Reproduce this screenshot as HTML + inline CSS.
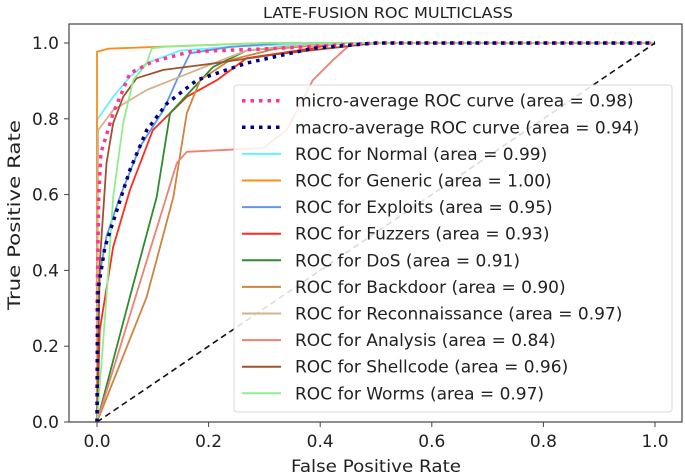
<!DOCTYPE html>
<html><head><meta charset="utf-8"><style>
html,body{margin:0;padding:0;background:#fff;}
svg{display:block;font-family:"DejaVu Sans","Liberation Sans",sans-serif;}
</style></head><body>
<svg id="chart" width="685" height="476" viewBox="0 0 685 476" xmlns="http://www.w3.org/2000/svg">
<text x="388" y="18" font-size="15.5" text-anchor="middle" fill="#222" textLength="250" lengthAdjust="spacingAndGlyphs">LATE-FUSION ROC MULTICLASS</text>
<g id="plot"></g>
<rect x="69" y="24" width="613" height="398" fill="none" stroke="#444" stroke-width="1.2"/>
<g id="ticks"></g>
<text x="376" y="472" font-size="17" text-anchor="middle" fill="#222" textLength="170" lengthAdjust="spacingAndGlyphs">False Positive Rate</text>
<text x="20" y="215" font-size="17" text-anchor="middle" fill="#222" transform="rotate(-90 20 215)" textLength="190" lengthAdjust="spacingAndGlyphs">True Positive Rate</text>
<g id="legend"></g>
</svg>
<script>
const tickValues = [0, 0.2, 0.4, 0.6, 0.8, 1.0];
const tickLabels = ["0.0", "0.2", "0.4", "0.6", "0.8", "1.0"];
const seriesNames = ["micro-average ROC curve (area = 0.98)","macro-average ROC curve (area = 0.94)","ROC for Normal (area = 0.99)","ROC for Generic (area = 1.00)","ROC for Exploits (area = 0.95)","ROC for Fuzzers (area = 0.93)","ROC for DoS (area = 0.91)","ROC for Backdoor (area = 0.90)","ROC for Reconnaissance (area = 0.97)","ROC for Analysis (area = 0.84)","ROC for Shellcode (area = 0.96)","ROC for Worms (area = 0.97)"];
const seriesKeys = ["micro","macro","normal","generic","exploits","fuzzers","dos","backdoor","reconnaissance","analysis","shellcode","worms"];
const seriesColors = ["#ff3399","#000080","#66f0ff","#ff8c1a","#6495ed","#ff2a1a","#2e8b2e","#cd853f","#d2b48c","#f08070","#a0522d","#90ee90"];
const microFpr = [0,0,0.003,0.007,0.029,0.059,0.1,0.167,0.31,0.5,1];
const microTpr = [0,0.3,0.594,0.71,0.815,0.92,0.951,0.977,0.985,1,1];
const macroFpr = [0,0.002,0.014,0.03,0.059,0.089,0.125,0.179,0.268,0.387,0.5,1];
const macroTpr = [0,0.35,0.46,0.533,0.665,0.77,0.84,0.902,0.947,0.986,1,1];
const normalFpr = [0,0,0.029,0.059,0.089,0.149,0.24,0.4,1];
const normalTpr = [0,0.797,0.858,0.911,0.947,0.98,0.99,1,1];
const genericFpr = [0,0,0.02,0.11,0.3,1];
const genericTpr = [0,0.977,0.985,0.99,1,1];
const exploitsFpr = [0,0.003,0.017,0.041,0.077,0.119,0.143,0.167,0.24,0.34,1];
const exploitsTpr = [0,0.375,0.49,0.594,0.726,0.823,0.902,0.973,0.99,1,1];
const fuzzersFpr = [0,0.005,0.029,0.059,0.1,0.161,0.215,0.268,0.387,0.43,1];
const fuzzersTpr = [0,0.243,0.462,0.612,0.77,0.858,0.902,0.96,0.986,1,1];
const dosFpr = [0,0.059,0.107,0.131,0.208,0.268,0.34,0.45,1];
const dosTpr = [0,0.33,0.594,0.815,0.937,0.98,0.99,1,1];
const backdoorFpr = [0,0.089,0.137,0.161,0.185,0.238,0.32,0.45,1];
const backdoorTpr = [0,0.33,0.594,0.815,0.902,0.955,0.985,1,1];
const reconFpr = [0,0.002,0.029,0.089,0.149,0.208,0.268,0.33,0.45,1];
const reconTpr = [0,0.77,0.823,0.876,0.911,0.946,0.98,0.99,1,1];
const analysisFpr = [0,0.143,0.161,0.298,0.34,0.387,0.423,0.453,0.46,1];
const analysisTpr = [0,0.683,0.713,0.723,0.77,0.902,0.955,0.995,1,1];
const shellcodeFpr = [0,0.005,0.017,0.029,0.047,0.071,0.119,0.208,0.32,0.44,0.5,1];
const shellcodeTpr = [0,0.42,0.683,0.789,0.858,0.907,0.929,0.946,0.97,0.99,1,1];
const wormsFpr = [0,0.017,0.029,0.047,0.065,0.089,0.098,0.12,0.3,1];
const wormsTpr = [0,0.33,0.594,0.789,0.902,0.946,0.986,0.99,1,1];
const diagonalFpr = [0,1];
const diagonalTpr = [0,1];

const NS="http://www.w3.org/2000/svg";
function xs(v){return 97+v*558;}
function ys(v){return 422-v*379;}
const fprs=[microFpr,macroFpr,normalFpr,genericFpr,exploitsFpr,fuzzersFpr,dosFpr,backdoorFpr,reconFpr,analysisFpr,shellcodeFpr,wormsFpr];
const tprs=[microTpr,macroTpr,normalTpr,genericTpr,exploitsTpr,fuzzersTpr,dosTpr,backdoorTpr,reconTpr,analysisTpr,shellcodeTpr,wormsTpr];
const plot=document.getElementById('plot');
function pts(f,t){return f.map((v,i)=>xs(v).toFixed(1)+","+ys(t[i]).toFixed(1)).join(" ");}
const drawOrder=[2,3,4,5,6,7,8,9,10,11,0,1];
drawOrder.forEach(i=>{
  const p=document.createElementNS(NS,'polyline');
  p.setAttribute('points',pts(fprs[i],tprs[i]));
  p.setAttribute('fill','none');
  p.setAttribute('stroke',seriesColors[i]);
  p.setAttribute('stroke-linejoin','round');
  if(i<2){p.setAttribute('stroke-width','3.5');p.setAttribute('stroke-dasharray','3.5 5');}
  else p.setAttribute('stroke-width','1.8');
  
  
  plot.appendChild(p);
});
const d=document.createElementNS(NS,'polyline');
d.setAttribute('points',pts(diagonalFpr,diagonalTpr));
d.setAttribute('fill','none');d.setAttribute('stroke','#111');d.setAttribute('stroke-width','1.6');d.setAttribute('stroke-dasharray','6 4');


plot.appendChild(d);

const tk=document.getElementById('ticks');
tickValues.forEach((v,i)=>{
  const l=document.createElementNS(NS,'line');
  l.setAttribute('x1',xs(v));l.setAttribute('x2',xs(v));l.setAttribute('y1',422);l.setAttribute('y2',427);l.setAttribute('stroke','#444');
  
  
  tk.appendChild(l);
  const t=document.createElementNS(NS,'text');
  t.setAttribute('x',xs(v));t.setAttribute('y',447);t.setAttribute('font-size','17');t.setAttribute('text-anchor','middle');t.setAttribute('fill','#222');
  t.textContent=tickLabels[i];
  
  
  tk.appendChild(t);
  const l2=document.createElementNS(NS,'line');
  l2.setAttribute('x1',64);l2.setAttribute('x2',69);l2.setAttribute('y1',ys(v));l2.setAttribute('y2',ys(v));l2.setAttribute('stroke','#444');
  
  
  tk.appendChild(l2);
  const t2=document.createElementNS(NS,'text');
  t2.setAttribute('x',59);t2.setAttribute('y',ys(v)+6);t2.setAttribute('font-size','17');t2.setAttribute('text-anchor','end');t2.setAttribute('fill','#222');
  t2.textContent=tickLabels[i];
  
  
  tk.appendChild(t2);
});

const lg=document.getElementById('legend');
const box=document.createElementNS(NS,'rect');
box.setAttribute('x',234);box.setAttribute('y',85);box.setAttribute('width',438);box.setAttribute('height',327);box.setAttribute('rx',3);
box.setAttribute('fill','rgba(255,255,255,0.85)');box.setAttribute('stroke','#d8d8d8');


lg.appendChild(box);
seriesNames.forEach((n,i)=>{
  const y=100.7+i*26.6;
  const g=document.createElementNS(NS,'g');
  
  
  const l=document.createElementNS(NS,'line');
  l.setAttribute('x1',242);l.setAttribute('x2',281);l.setAttribute('y1',y);l.setAttribute('y2',y);l.setAttribute('stroke',seriesColors[i]);
  if(i<2){l.setAttribute('stroke-width','3.5');l.setAttribute('stroke-dasharray','3.5 5');}else l.setAttribute('stroke-width','2');
  g.appendChild(l);
  const t=document.createElementNS(NS,'text');
  t.setAttribute('x',295);t.setAttribute('y',y+6);t.setAttribute('font-size','17');t.setAttribute('fill','#222');
  t.textContent=n;
  g.appendChild(t);
  lg.appendChild(g);
});
</script>
</body></html>
